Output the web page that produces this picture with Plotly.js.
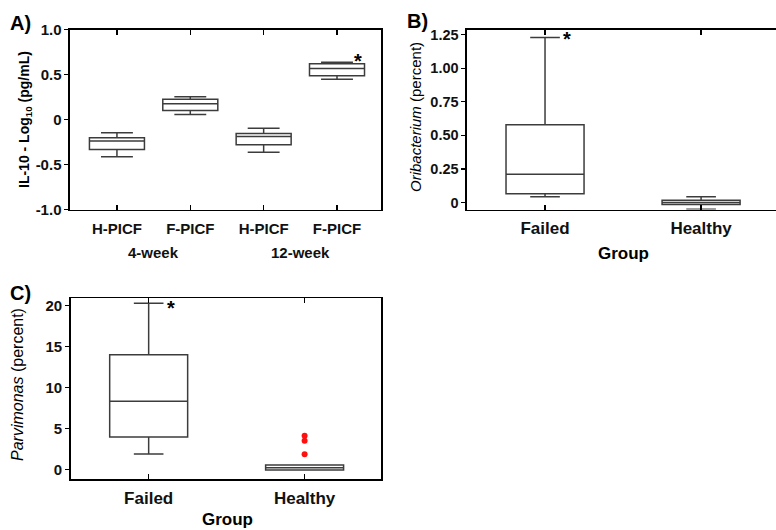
<!DOCTYPE html>
<html>
<head>
<meta charset="utf-8">
<script src="https://cdn.plot.ly/plotly-3.0.1.min.js"></script>
<style>html,body{margin:0;padding:0;background:#fff;}#chart{width:776px;height:530px;}</style>
</head>
<body>
<div id="chart"></div>
<script>
// ---- Panel A: IL-10 ----
const aKeys = ["4w-H", "4w-F", "12w-H", "12w-F"];
const aTickLabels = ["H-PICF", "F-PICF", "H-PICF", "F-PICF"];
const aWeekLabels = ["4-week", "12-week"];
const aLower = [-0.415, 0.056, -0.363, 0.448];
const aQ1 = [-0.333, 0.100, -0.281, 0.485];
const aMedian = [-0.240, 0.174, -0.189, 0.567];
const aQ3 = [-0.204, 0.226, -0.156, 0.619];
const aUpper = [-0.148, 0.252, -0.096, 0.637];
const aYTicks = [-1, -0.5, 0, 0.5, 1];
const aYTickText = ["-1.0", "-0.5", "0", "0.5", "1.0"];

// ---- Panel B: Oribacterium ----
const groups = ["Failed", "Healthy"];
const bLower = [0.042, -0.05];
const bQ1 = [0.0645, -0.015];
const bMedian = [0.211, 0.0];
const bQ3 = [0.578, 0.017];
const bUpper = [1.228, 0.042];
const bYTicks = [0, 0.25, 0.5, 0.75, 1.0, 1.25];
const bYTickText = ["0", "0.25", "0.50", "0.75", "1.00", "1.25"];

// ---- Panel C: Parvimonas ----
const cLower = [1.87, -0.08];
const cQ1 = [3.95, -0.08];
const cMedian = [8.31, 0.2];
const cQ3 = [14.01, 0.53];
const cUpper = [20.28, 0.53];
const cOutlierX = ["Healthy", "Healthy", "Healthy"];
const cOutlierY = [4.1, 3.5, 1.83];
const cYTicks = [0, 5, 10, 15, 20];
const cYTickText = ["0", "5", "10", "15", "20"];

const FONT = "'Liberation Sans', Arial, Helvetica, sans-serif";
const boxLine = {color: "#3c3c3c", width: 1.5};
const clear = "rgba(0,0,0,0)";
const b = (s) => "<b>" + s + "</b>";

const traces = [
  {type: "box", x: aKeys, q1: aQ1, median: aMedian, q3: aQ3, lowerfence: aLower, upperfence: aUpper,
   xaxis: "x", yaxis: "y", line: boxLine, fillcolor: clear, width: 0.75, whiskerwidth: 0.58, hoverinfo: "skip"},
  {type: "box", x: groups, q1: bQ1, median: bMedian, q3: bQ3, lowerfence: bLower, upperfence: bUpper,
   xaxis: "x2", yaxis: "y2", line: boxLine, fillcolor: clear, width: 0.5, whiskerwidth: 0.38, hoverinfo: "skip"},
  {type: "box", x: groups, q1: cQ1, median: cMedian, q3: cQ3, lowerfence: cLower, upperfence: cUpper,
   xaxis: "x3", yaxis: "y3", line: boxLine, fillcolor: clear, width: 0.5, whiskerwidth: 0.38, hoverinfo: "skip"},
  {type: "scatter", mode: "markers", x: cOutlierX, y: cOutlierY, xaxis: "x3", yaxis: "y3",
   marker: {color: "#ff1010", size: 6}, hoverinfo: "skip"}
];

const tickFont = (s) => ({family: FONT, size: s, color: "#111", weight: 700});
const xBase = {type: "category", showgrid: false, zeroline: false, showline: true, linecolor: "#000", linewidth: 1.5,
  mirror: "ticks", ticks: "inside", ticklen: 5, tickwidth: 1.2, tickcolor: "#000", fixedrange: true};
const yBase = {showgrid: false, zeroline: false, showline: true, linecolor: "#000", linewidth: 1.5,
  mirror: true, ticks: "outside", ticklen: 4, tickwidth: 1.2, tickcolor: "#000", fixedrange: true};

function ann(text, x, y, size, opts) {
  return Object.assign({text: text, xref: "paper", yref: "paper", x: x / 776, y: 1 - y / 530,
    xanchor: "center", yanchor: "middle", showarrow: false,
    font: {family: FONT, size: size, color: "#000"}}, opts || {});
}

const layout = {
  width: 776, height: 530,
  margin: {l: 0, r: 0, t: 0, b: 0},
  paper_bgcolor: "#fff", plot_bgcolor: "#fff",
  showlegend: false,
  xaxis: Object.assign({}, xBase, {domain: [0.0902, 0.491], anchor: "y", range: [-0.64, 3.6],
    categoryarray: aKeys, categoryorder: "array", tickmode: "array", tickvals: aKeys, ticktext: aTickLabels.map(b),
    tickfont: tickFont(15), ticklabelstandoff: 5}),
  yaxis: Object.assign({}, yBase, {domain: [0.6047, 0.9443], anchor: "x", range: [-1, 1],
    tickmode: "array", tickvals: aYTicks, ticktext: aYTickText.map(b), tickfont: tickFont(15)}),
  yaxis4: {overlaying: "y", side: "right", anchor: "x", range: [-1, 1], tickmode: "array", tickvals: aYTicks,
    ticks: "inside", ticklen: 5, tickwidth: 1.2, tickcolor: "#000", showticklabels: false, showline: false,
    showgrid: false, zeroline: false, fixedrange: true},
  xaxis2: Object.assign({}, xBase, {domain: [0.6018, 1], anchor: "y2", range: [-0.5, 1.48],
    categoryarray: groups, categoryorder: "array", tickmode: "array", tickvals: groups, ticktext: groups.map(b),
    tickfont: tickFont(17), ticklabelstandoff: 3}),
  yaxis2: Object.assign({}, yBase, {domain: [0.6047, 0.9443], anchor: "x2", range: [-0.052, 1.287],
    tickmode: "array", tickvals: bYTicks, ticktext: bYTickText.map(b), tickfont: tickFont(14.5)}),
  xaxis3: Object.assign({}, xBase, {domain: [0.0911, 0.491], anchor: "y3", range: [-0.5, 1.49],
    categoryarray: groups, categoryorder: "array", tickmode: "array", tickvals: groups, ticktext: groups.map(b),
    tickfont: tickFont(17), ticklabelstandoff: 3}),
  yaxis3: Object.assign({}, yBase, {domain: [0.0962, 0.4372], anchor: "x3", range: [-1.18, 20.9],
    tickmode: "array", tickvals: cYTicks, ticktext: cYTickText.map(b), tickfont: tickFont(15)}),
  annotations: [
    // panel letters
    ann(b("A)"), 20, 23, 20),
    ann(b("B)"), 417, 21, 20),
    ann(b("C)"), 20, 293, 20),
    // y-axis titles
    ann(b("IL-10 - Log<sub>10</sub> (pg/mL)"), 25, 120, 14, {textangle: -90}),
    ann("<i>Oribacterium</i> (percent)", 415, 117, 15, {textangle: -90}),
    ann("<i>Parvimonas</i> (percent)", 17, 385, 16, {textangle: -90}),
    // x-axis titles
    ann(b("Group"), 623, 253, 17),
    ann(b("Group"), 227, 519, 17),
    // week labels under panel A
    {text: b(aWeekLabels[0]), xref: "x", yref: "paper", x: 0.5, y: 1 - 252 / 530, xanchor: "center", yanchor: "middle",
     showarrow: false, font: {family: FONT, size: 15, color: "#111"}},
    {text: b(aWeekLabels[1]), xref: "x", yref: "paper", x: 2.5, y: 1 - 252 / 530, xanchor: "center", yanchor: "middle",
     showarrow: false, font: {family: FONT, size: 15, color: "#111"}},
    // significance stars
    {text: b("*"), xref: "x", yref: "y", x: aKeys[3], y: aUpper[3], xshift: 21, yshift: 1, showarrow: false,
     xanchor: "center", yanchor: "middle", font: {family: FONT, size: 20, color: "#000"}},
    {text: b("*"), xref: "x2", yref: "y2", x: groups[0], y: bUpper[0], xshift: 22, yshift: -2, showarrow: false,
     xanchor: "center", yanchor: "middle", font: {family: FONT, size: 20, color: "#000"}},
    {text: b("*"), xref: "x3", yref: "y3", x: groups[0], y: cUpper[0], xshift: 22, yshift: -5, showarrow: false,
     xanchor: "center", yanchor: "middle", font: {family: FONT, size: 20, color: "#000"}}
  ]
};

Plotly.newPlot("chart", traces, layout, {staticPlot: true, displayModeBar: false});
</script>
</body>
</html>
